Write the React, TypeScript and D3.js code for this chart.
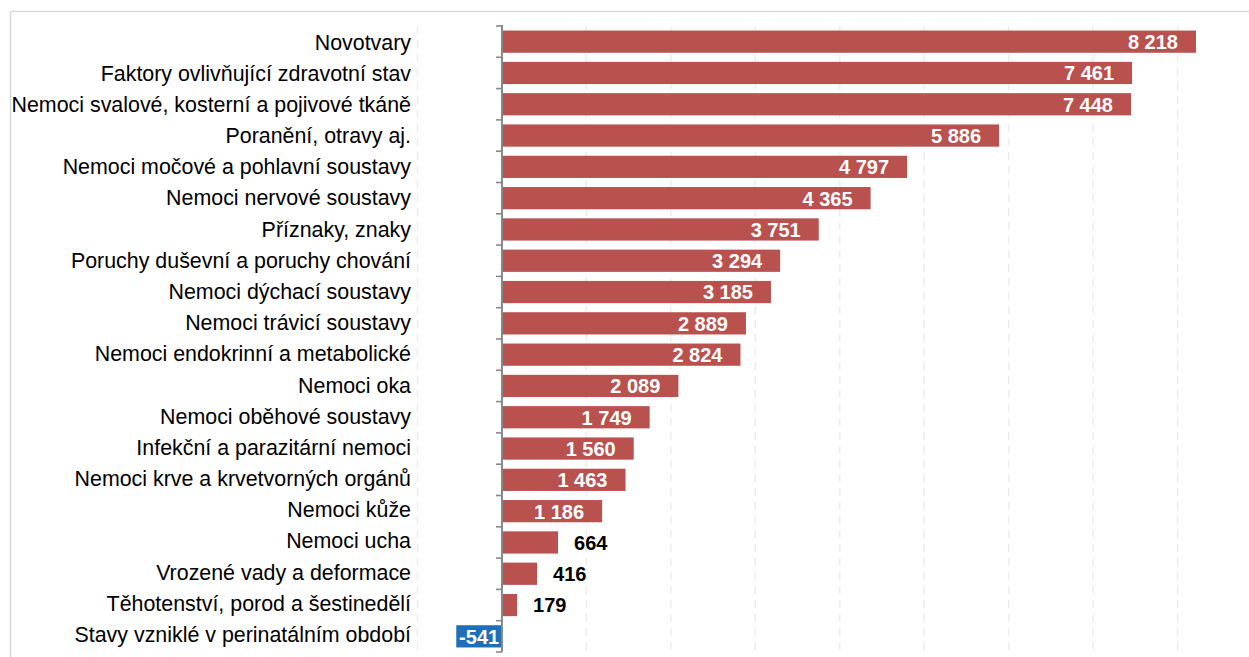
import React from "react";
import * as d3 from "d3";

// Diagnoses (ICD chapters) and their change in counts
const categories: string[] = [
  "Novotvary",
  "Faktory ovlivňující zdravotní stav",
  "Nemoci svalové, kosterní a pojivové tkáně",
  "Poranění, otravy aj.",
  "Nemoci močové a pohlavní soustavy",
  "Nemoci nervové soustavy",
  "Příznaky, znaky",
  "Poruchy duševní a poruchy chování",
  "Nemoci dýchací soustavy",
  "Nemoci trávicí soustavy",
  "Nemoci endokrinní a metabolické",
  "Nemoci oka",
  "Nemoci oběhové soustavy",
  "Infekční a parazitární nemoci",
  "Nemoci krve a krvetvorných orgánů",
  "Nemoci kůže",
  "Nemoci ucha",
  "Vrozené vady a deformace",
  "Těhotenství, porod a šestinedělí",
  "Stavy vzniklé v perinatálním období",
];

const values: number[] = [
  8218, 7461, 7448, 5886, 4797, 4365, 3751, 3294, 3185, 2889, 2824, 2089,
  1749, 1560, 1463, 1186, 664, 416, 179, -541,
];

const xDomain: [number, number] = [-1000, 8000];

const W = 1249;
const H = 657;
const FONT = "'Liberation Sans', Arial, Helvetica, sans-serif";
const POS_COLOR = "#B9514F";
const NEG_COLOR = "#1F6EB8";

const fmt = (v: number) => {
  const s = Math.abs(v)
    .toString()
    .replace(/\B(?=(\d{3})+(?!\d))/g, " ");
  return v < 0 ? "-" + s : s;
};

export default function App() {
  const x = d3.scaleLinear().domain(xDomain).range([417.5, 1177.6]);
  const y = d3
    .scaleBand<string>()
    .domain(categories)
    .range([26, 652])
    .paddingInner(0.29)
    .paddingOuter(0.145);
  // baselines of the category labels
  const yLabel = d3.scalePoint<string>().domain(categories).range([49.5, 642]);

  const x0 = x(0);
  const step = y.step();
  const top = y.range()[0];
  const bottom = y.range()[1];
  const gridTicks = x.ticks(9).filter((t) => t !== 0);
  const boundaries = d3.range(categories.length + 1).map((i) => top + i * step);

  return (
    <div style={{ position: "fixed", left: 0, top: 0, background: "#fff" }}>
      <svg width={W} height={H} style={{ display: "block" }}>
        <rect x={0} y={0} width={W} height={H} fill="#fff" />
        {/* frame */}
        <line x1={10.5} x2={W} y1={11.5} y2={11.5} stroke="#d9d9d9" strokeWidth={1.5} />
        <line x1={10.5} x2={10.5} y1={11.5} y2={H} stroke="#d9d9d9" strokeWidth={1.5} />

        {/* gridlines */}
        {gridTicks.map((t) => (
          <line
            key={t}
            x1={x(t)}
            x2={x(t)}
            y1={top}
            y2={bottom}
            stroke="#ededed"
            strokeWidth={1.5}
            strokeDasharray="8,6"
          />
        ))}

        {/* bars */}
        {categories.map((c, i) => {
          const v = values[i];
          const x1 = x(Math.min(0, v));
          const x2 = x(Math.max(0, v));
          return (
            <rect
              key={c}
              x={x1}
              y={y(c)!}
              width={x2 - x1}
              height={y.bandwidth()}
              fill={v < 0 ? NEG_COLOR : POS_COLOR}
            />
          );
        })}

        {/* axis */}
        <line x1={x0} x2={x0} y1={top - 1} y2={bottom} stroke="#888" strokeWidth={2} />
        {boundaries.map((b, i) => (
          <line
            key={i}
            x1={x0 - 6}
            x2={x0}
            y1={b}
            y2={b}
            stroke="#888"
            strokeWidth={1.6}
          />
        ))}

        {/* category labels */}
        {categories.map((c) => (
          <text
            key={c}
            x={411}
            y={yLabel(c)!}
            textAnchor="end"
            fontFamily={FONT}
            fontSize={21.4}
            fill="#000"
          >
            {c}
          </text>
        ))}

        {/* value labels */}
        {categories.map((c, i) => {
          const v = values[i];
          const cy = y(c)! + y.bandwidth() / 2;
          let lx: number;
          let anchor: "start" | "end" | "middle";
          let color: string;
          if (v < 0) {
            lx = (x(v) + x0) / 2;
            anchor = "middle";
            color = "#fff";
          } else if (v >= 1000) {
            lx = x(v) - 18;
            anchor = "end";
            color = "#fff";
          } else {
            lx = x(v) + 16;
            anchor = "start";
            color = "#000";
          }
          return (
            <text
              key={c}
              x={lx}
              y={cy}
              dy="0.37em"
              textAnchor={anchor}
              fontFamily={FONT}
              fontWeight="bold"
              fontSize={20}
              fill={color}
            >
              {fmt(v)}
            </text>
          );
        })}
      </svg>
    </div>
  );
}
